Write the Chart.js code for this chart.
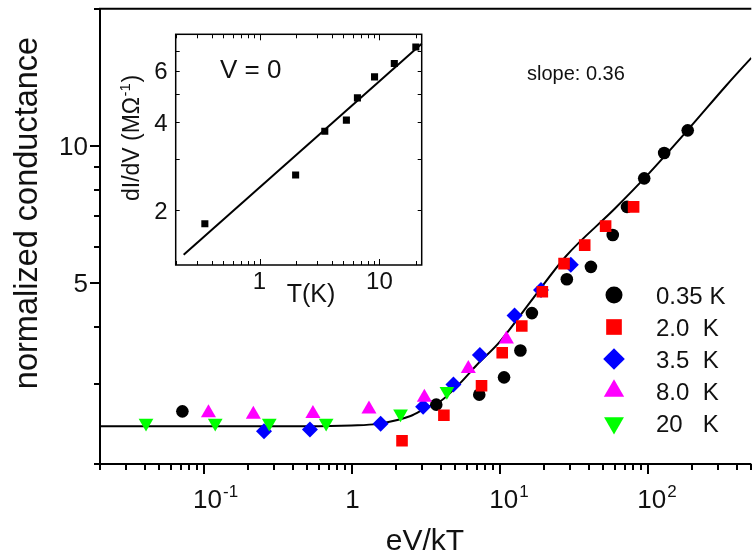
<!DOCTYPE html>
<html>
<head>
<meta charset="utf-8">
<script src="https://cdn.jsdelivr.net/npm/chart.js@4.4.0/dist/chart.umd.min.js"></script>
<style>
  html, body { margin: 0; padding: 0; background: #fff; overflow: hidden; }
  #wrap { position: relative; width: 753px; height: 554px; overflow: hidden; background: #fff; }
  #main { position: absolute; left: 0; top: 0; }
  #inset { position: absolute; left: 100px; top: 20px; }
</style>
</head>
<body>
<div id="wrap">
  <canvas id="main" width="760" height="554"></canvas>
  <canvas id="inset" width="340" height="300"></canvas>
</div>
<script>
// ---- main plot data (eV/kT vs normalized conductance) ----
const seriesLabels = ['0.35 K', '2.0  K', '3.5  K', '8.0  K', '20   K'];
const seriesColors = ['#000000', '#ff0000', '#0000ff', '#ff00ff', '#00ff00'];

const x035 = [0.072, 3.73, 7.28, 10.7, 13.8, 16.5, 28.4, 41.3, 58.0, 72.4, 94.6, 129, 186];
const y035 = [2.61, 2.70, 2.84, 3.10, 3.55, 4.29, 5.09, 5.42, 6.37, 7.34, 8.48, 9.64, 10.81];
const x20 = [2.19, 4.20, 7.54, 10.4, 14.1, 19.4, 27.2, 37.5, 51.9, 80.2];
const y20 = [2.25, 2.56, 2.97, 3.51, 4.02, 4.78, 5.51, 6.05, 6.66, 7.34];
const x35 = [0.256, 0.523, 1.57, 3.04, 4.87, 7.35, 12.6, 19.0, 30.2];
const y35 = [2.36, 2.38, 2.45, 2.67, 2.99, 3.47, 4.24, 4.82, 5.48];
const x80 = [0.108, 0.217, 0.548, 1.31, 3.10, 6.14, 11.1];
const y80 = [2.59, 2.57, 2.58, 2.64, 2.80, 3.24, 3.76];
const x200 = [0.0409, 0.120, 0.278, 0.673, 2.14, 4.40];
const y200 = [2.46, 2.46, 2.46, 2.46, 2.58, 2.89];

// scaling curve
const curveX = [0.02, 0.1, 0.5, 1.0, 1.5, 2.5, 3.2, 4.0, 5.4, 7.0, 10, 16.7, 28, 60, 96, 187, 340, 500];
const curveY = [2.42, 2.42, 2.42, 2.43, 2.45, 2.55, 2.66, 2.75, 3.01, 3.30, 3.71, 4.61, 5.72, 7.28, 8.52, 10.85, 13.58, 15.6];

// axis ticks
const xLabelValues = [0.1, 1, 10, 100];
const xLabelBase = ['10', '1', '10', '10'];
const xLabelExp = ['-1', '', '1', '2'];
const yLabelValues = [5, 10];
const yLabelText = ['5', '10'];
const yTickValues = [2, 3, 4, 5, 6, 7, 8, 9, 10, 20];

// ---- inset data (V = 0) ----
const insetT = [0.35, 2.0, 3.5, 5.3, 6.55, 9.1, 13.3, 20.1];
const insetG = [1.80, 2.64, 3.73, 4.07, 4.85, 5.72, 6.36, 7.24];
const insetFitT = [0.233, 22.5];
const insetFitG = [1.41, 7.43];
const insetXLabelValues = [1, 10];
const insetYLabelValues = [2, 4, 6];
const insetYTickValues = [2, 3, 4, 5, 6, 7];

const FONT = "'Liberation Sans', Arial, Helvetica, sans-serif";
const TEXT = '#111';
function setFont(ctx, size) { ctx.font = size + 'px ' + FONT; }

function logTicks(min, max) {
  const out = [];
  for (let e = -3; e <= 3; e++) {
    for (let m = 1; m <= 9; m++) {
      const v = +(m * Math.pow(10, e)).toPrecision(6);
      if (v >= min * 0.999 && v <= max * 1.001) out.push(v);
    }
  }
  return out;
}
const isPow10 = v => Math.abs(Math.log10(v) - Math.round(Math.log10(v))) < 1e-6;

function drawSup(ctx, base, sup, cx, y, size) {
  setFont(ctx, size);
  const wb = ctx.measureText(base).width;
  ctx.textAlign = 'left';
  ctx.fillText(base, cx - wb / 2, y);
  if (sup) {
    setFont(ctx, Math.round(size * 0.66));
    ctx.fillText(sup, cx + wb / 2 + 1, y - size * 0.42);
  }
}

const markers = [
  { pointStyle: 'circle', radius: 6.3, rotation: 0 },
  { pointStyle: 'rect', radius: 8.2, rotation: 0 },
  { pointStyle: 'rectRot', radius: 8, rotation: 0 },
  { pointStyle: 'triangle', radius: 8.7, rotation: 0 },
  { pointStyle: 'triangle', radius: 8.5, rotation: 180 }
];
const seriesX = [x035, x20, x35, x80, x200];
const seriesY = [y035, y20, y35, y80, y200];
const drawOrder = [5, 1, 4, 3, 2];

const pointSets = seriesX.map((xs, i) => ({
  label: seriesLabels[i],
  data: xs.map((v, j) => ({ x: v, y: seriesY[i][j] })),
  pointStyle: markers[i].pointStyle,
  pointRotation: markers[i].rotation,
  pointRadius: markers[i].radius,
  pointBackgroundColor: seriesColors[i],
  pointBorderWidth: 0,
  borderColor: seriesColors[i],
  showLine: false,
  order: drawOrder[i]
}));

const mainDecor = {
  id: 'mainDecor',
  afterDraw(chart) {
    const { ctx, chartArea: a, scales: { x, y } } = chart;
    ctx.save();
    ctx.strokeStyle = '#000';
    ctx.lineWidth = 2;
    ctx.lineCap = 'butt';
    ctx.beginPath();
    // frame: left, bottom, top
    ctx.moveTo(a.left, a.top - 1); ctx.lineTo(a.left, a.bottom + 1);
    ctx.moveTo(a.left - 1, a.bottom); ctx.lineTo(a.right, a.bottom);
    ctx.moveTo(a.left - 1, a.top); ctx.lineTo(a.right, a.top);
    // x ticks (outward)
    logTicks(0.02, 500).forEach(v => {
      const px = Math.round(x.getPixelForValue(v));
      const len = isPow10(v) ? 10 : 6;
      ctx.moveTo(px, a.bottom); ctx.lineTo(px, a.bottom + len);
    });
    // y ticks (outward)
    yTickValues.forEach(v => {
      const py = Math.round(y.getPixelForValue(v));
      const len = yLabelValues.includes(v) ? 10 : 6;
      ctx.moveTo(a.left, py); ctx.lineTo(a.left - len, py);
    });
    ctx.stroke();

    ctx.fillStyle = TEXT;
    // x tick labels
    xLabelValues.forEach((v, i) => {
      const px = x.getPixelForValue(v);
      drawSup(ctx, xLabelBase[i], xLabelExp[i], px + (xLabelExp[i] ? 4 : 1), a.bottom + 44, 26);
    });
    // y tick labels
    setFont(ctx, 26);
    ctx.textAlign = 'right';
    yLabelValues.forEach((v, i) => {
      ctx.fillText(yLabelText[i], a.left - 12, y.getPixelForValue(v) + 9.3);
    });
    // axis titles
    setFont(ctx, 30);
    ctx.textAlign = 'center';
    ctx.fillText('eV/kT', 425, 550);
    ctx.save();
    ctx.translate(37, 213);
    ctx.rotate(-Math.PI / 2);
    setFont(ctx, 32.5);
    ctx.fillText('normalized conductance', 0, 0);
    ctx.restore();

    setFont(ctx, 20);
    ctx.textAlign = 'left';
    ctx.fillText('slope: 0.36', 527, 80);

    // legend
    const rows = [295, 327, 359, 391, 423];
    seriesLabels.forEach((lab, i) => {
      ctx.fillStyle = seriesColors[i];
      Chart.helpers.drawPoint(ctx, {
        pointStyle: markers[i].pointStyle,
        rotation: markers[i].rotation,
        radius: markers[i].radius * 1.35,
        borderWidth: 0
      }, 614, rows[i]);
      ctx.fillStyle = TEXT;
      setFont(ctx, 24);
      ctx.textAlign = 'left';
      ctx.fillText(lab, 656, rows[i] + 8.6);
    });
    ctx.restore();
  }
};

new Chart(document.getElementById('main'), {
  type: 'scatter',
  data: {
    datasets: [
      {
        type: 'line',
        label: 'fit',
        data: curveX.map((v, i) => ({ x: v, y: curveY[i] })),
        borderColor: '#000',
        borderWidth: 2,
        pointRadius: 0,
        cubicInterpolationMode: 'monotone',
        fill: false,
        order: 10
      },
      ...pointSets
    ]
  },
  options: {
    responsive: false,
    animation: false,
    devicePixelRatio: 1,
    layout: { padding: { left: 100, top: 2.4, right: 3.2, bottom: 90 } },
    plugins: { legend: { display: false }, tooltip: { enabled: false } },
    scales: {
      x: { type: 'logarithmic', min: 0.02, max: 500, display: false },
      y: { type: 'logarithmic', min: 2, max: 20, display: false }
    }
  },
  plugins: [mainDecor]
});

// ---- inset ----
const insetDecor = {
  id: 'insetDecor',
  afterDraw(chart) {
    const { ctx, chartArea: a, scales: { x, y } } = chart;
    ctx.save();
    ctx.strokeStyle = '#000';
    ctx.lineWidth = 1.5;
    ctx.strokeRect(a.left, a.top, a.right - a.left, a.bottom - a.top);
    ctx.lineWidth = 1;
    ctx.beginPath();
    logTicks(0.2, 22.5).forEach(v => {
      const px = Math.round(x.getPixelForValue(v)) + 0.5;
      const len = isPow10(v) ? 6 : 4;
      ctx.moveTo(px, a.bottom); ctx.lineTo(px, a.bottom - len);
      ctx.moveTo(px, a.top); ctx.lineTo(px, a.top + len);
    });
    insetYTickValues.forEach(v => {
      const py = Math.round(y.getPixelForValue(v)) + 0.5;
      ctx.moveTo(a.left, py); ctx.lineTo(a.left + 4, py);
      ctx.moveTo(a.right, py); ctx.lineTo(a.right - 4, py);
    });
    ctx.stroke();

    ctx.fillStyle = TEXT;
    setFont(ctx, 24);
    ctx.textAlign = 'right';
    insetYLabelValues.forEach(v => {
      ctx.fillText(String(v), a.left - 8, y.getPixelForValue(v) + 8.6);
    });
    ctx.textAlign = 'center';
    insetXLabelValues.forEach(v => {
      ctx.fillText(String(v), x.getPixelForValue(v), a.bottom + 23.5);
    });
    setFont(ctx, 25);
    ctx.fillText('T(K)', 211, a.bottom + 37);
    setFont(ctx, 26);
    ctx.textAlign = 'left';
    ctx.fillText('V = 0', 120, 57.5);

    // rotated y title with superscript
    ctx.save();
    ctx.translate(39, 118);
    ctx.rotate(-Math.PI / 2);
    const s = 23, ss = 15;
    setFont(ctx, s);
    const p1 = 'dI/dV (M\u03A9', p3 = ')';
    const w1 = ctx.measureText(p1).width, w3 = ctx.measureText(p3).width;
    setFont(ctx, ss);
    const w2 = ctx.measureText('-1').width;
    let cx = -(w1 + w2 + w3 + 1) / 2;
    setFont(ctx, s);
    ctx.fillText(p1, cx, 0);
    setFont(ctx, ss);
    ctx.fillText('-1', cx + w1 + 0.5, -s * 0.4);
    setFont(ctx, s);
    ctx.fillText(p3, cx + w1 + w2 + 1, 0);
    ctx.restore();
    ctx.restore();
  }
};

new Chart(document.getElementById('inset'), {
  type: 'scatter',
  data: {
    datasets: [
      {
        type: 'line',
        label: 'fit',
        data: insetFitT.map((v, i) => ({ x: v, y: insetFitG[i] })),
        borderColor: '#000',
        borderWidth: 2,
        pointRadius: 0,
        fill: false,
        clip: 4,
        order: 2
      },
      {
        label: 'dI/dV',
        data: insetT.map((v, i) => ({ x: v, y: insetG[i] })),
        pointStyle: 'rect',
        pointRadius: 5,
        pointBackgroundColor: '#000',
        pointBorderWidth: 0,
        order: 1
      }
    ]
  },
  options: {
    responsive: false,
    animation: false,
    devicePixelRatio: 1,
    layout: { padding: { left: 75.7, top: 14.3, right: 18.3, bottom: 55 } },
    plugins: { legend: { display: false }, tooltip: { enabled: false } },
    scales: {
      x: { type: 'logarithmic', min: 0.2, max: 22.5, display: false },
      y: { type: 'logarithmic', min: 1.3, max: 8, display: false }
    }
  },
  plugins: [insetDecor]
});
</script>
</body>
</html>
